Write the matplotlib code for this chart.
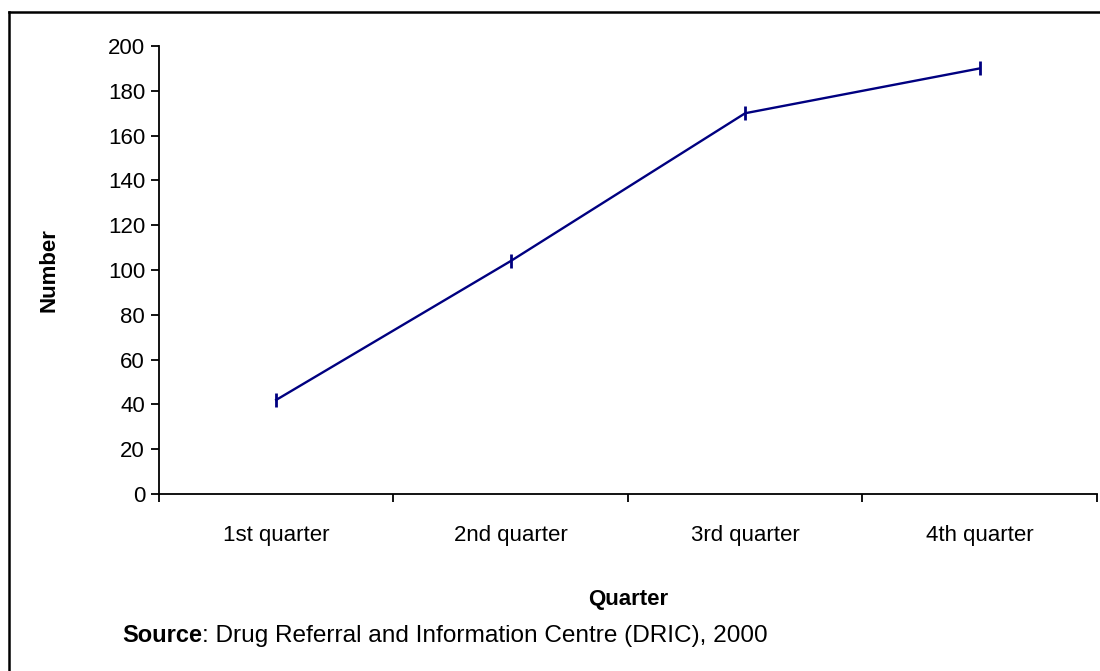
import numpy as np
import matplotlib.pyplot as plt
from matplotlib.lines import Line2D

plt.rcParams['font.family'] = ['Liberation Sans', 'DejaVu Sans']

quarters = ["1st quarter", "2nd quarter", "3rd quarter", "4th quarter"]
numbers = [42, 104, 170, 190]
y_ticks = [0, 20, 40, 60, 80, 100, 120, 140, 160, 180, 200]

fig = plt.figure(figsize=(11, 6.71), dpi=100)
ax = fig.add_axes([0.1445, 0.2638, 0.8527, 0.6676])

x = np.arange(len(quarters)) + 0.5
ax.plot(x, numbers, color="#000080", lw=1.7, marker="|", ms=9.5, mew=2.0)

ax.set_xlim(0, len(quarters))
ax.set_ylim(0, 200)
ax.set_yticks(y_ticks)
ax.set_xticks(np.arange(len(quarters) + 1))
ax.set_xticklabels([])
ax.set_xticks(x, minor=True)
ax.set_xticklabels(quarters, minor=True)
ax.tick_params(axis="x", which="minor", length=0, pad=22, labelsize=16)
ax.tick_params(axis="x", which="major", length=6, width=1.3, direction="out")
ax.tick_params(axis="y", length=6, width=1.3, direction="out", labelsize=16, pad=4)

for s in ["top", "right"]:
    ax.spines[s].set_visible(False)
for s in ["left", "bottom"]:
    ax.spines[s].set_linewidth(1.3)

ax.set_ylabel("Number", fontsize=16, fontweight="bold", labelpad=35)
ax.set_xlabel("Quarter", fontsize=16, fontweight="bold", labelpad=31)

fig.text(122 / 1100, 1 - 636 / 671, "Source", fontsize=17, fontweight="bold", va="center")
fig.text(202 / 1100, 1 - 636 / 671, ": Drug Referral and Information Centre (DRIC), 2000",
         fontsize=17.6, va="center")

# outer frame (top and left edges visible)
fig.add_artist(Line2D([9 / 1100, 1.0], [1 - 12 / 671, 1 - 12 / 671], color="black", lw=1.8))
fig.add_artist(Line2D([9 / 1100, 9 / 1100], [0, 1 - 12 / 671], color="black", lw=1.8))

fig.savefig("out.png", dpi=100)
